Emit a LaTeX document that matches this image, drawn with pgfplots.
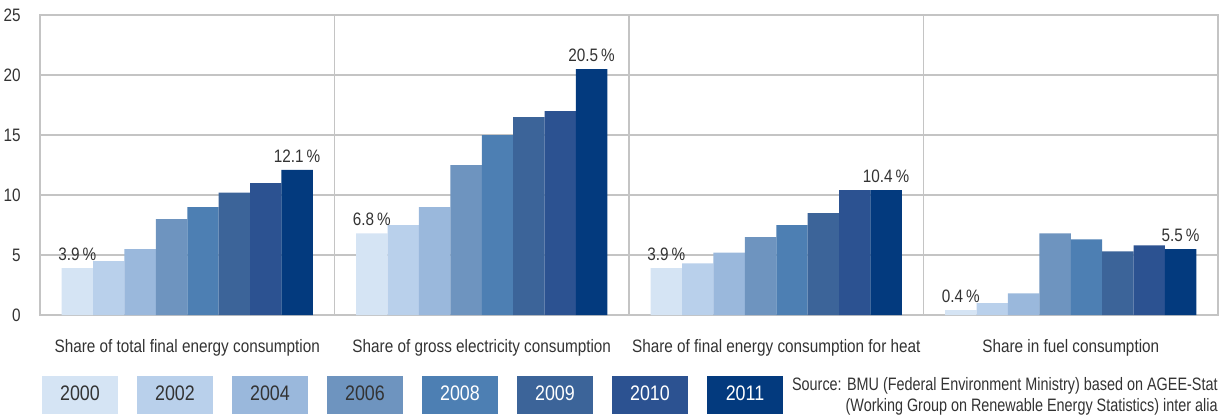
\documentclass[border=0pt]{standalone}
\usepackage{fontspec}
\setmainfont{Liberation Sans}[FakeStretch=0.85]
\newfontfamily\srcfont{Liberation Sans}[FakeStretch=0.8]
\usepackage{pgfplots}
\pgfplotsset{compat=1.18}
\usepackage{pgfplotstable}
\definecolor{c2000}{HTML}{D5E4F4}
\definecolor{c2002}{HTML}{B9D0EB}
\definecolor{c2004}{HTML}{9AB8DC}
\definecolor{c2006}{HTML}{6E94BF}
\definecolor{c2008}{HTML}{4D7FB3}
\definecolor{c2009}{HTML}{3C6499}
\definecolor{c2010}{HTML}{2C5291}
\definecolor{c2011}{HTML}{033A7E}
\definecolor{txt}{HTML}{333333}
\definecolor{gridc}{HTML}{C4C4C4}
\pgfplotsset{/pgf/number format/assume math mode=true}

\pgfplotstableread{
x   y2000 y2002 y2004 y2006 y2008 y2009 y2010 y2011
0.5 3.9   4.5   5.5   8.0   9.0   10.2  11.0  12.1
1.5 6.8   7.5   9.0   12.5  15.0  16.5  17.0  20.5
2.5 3.9   4.3   5.2   6.5   7.5   8.5   10.4  10.4
3.5 0.4   1.0   1.8   6.8   6.3   5.3   5.8   5.5
}\datatable

\begin{document}
\begin{tikzpicture}
\useasboundingbox (-20pt,-51pt) rectangle (593pt,157.5pt);
\begin{axis}[
  at={(0,0)}, anchor=south west,
  scale only axis, width=589pt, height=150pt,
  xmin=0, xmax=4, ymin=0, ymax=25,
  clip=false,
  ybar=0pt, bar width=15.7pt,
  xtick={0.5,1.5,2.5,3.5},
  xticklabels={Share of total final energy consumption, Share of gross electricity consumption, Share of final energy consumption for heat, Share in fuel consumption},
  ytick={0,5,...,25},
  ymajorgrids,
  extra x ticks={1,2,3}, extra x tick labels={}, extra x tick style={xmajorgrids=true},
  major grid style={gridc, line width=0.65pt},
  axis line style={gridc, line width=0.65pt},
  major tick length=0pt,
  tick style={draw=none},
  tick label style={font=\fontsize{9}{10}\selectfont, text=txt},
  yticklabel style={anchor=east, inner sep=0pt, xshift=-9.5pt},
  xticklabel style={anchor=base, inner sep=0pt, yshift=-18.5pt},
  mybar/.style={fill=#1, draw=none, legend image code/.code={}},
  valnodes/.style={nodes near coords={\pgfmathprintnumber[fixed,fixed zerofill,precision=1]{\pgfplotspointmeta}\,\%},
     point meta=y,
     every node near coord/.append style={font=\fontsize{9}{10}\selectfont, text=txt, inner sep=0pt, anchor=south, yshift=3.5pt}},
  legend columns=8,
  legend style={draw=none, fill=none, inner sep=0pt, outer sep=0pt,
     at={(0,0)}, anchor=west, xshift=1pt, yshift=-40pt,
     column sep=0pt,
     /tikz/every even column/.append style={column sep=9.5pt},
     nodes={inner sep=0pt, minimum width=38pt, minimum height=19pt, font=\fontsize{10.5}{11}\selectfont, text=txt}},
]
\addplot[mybar=c2000, valnodes] table[x=x,y=y2000]{\datatable};
\addlegendentry[fill=c2000]{2000}
\addplot[mybar=c2002] table[x=x,y=y2002]{\datatable};
\addlegendentry[fill=c2002]{2002}
\addplot[mybar=c2004] table[x=x,y=y2004]{\datatable};
\addlegendentry[fill=c2004]{2004}
\addplot[mybar=c2006] table[x=x,y=y2006]{\datatable};
\addlegendentry[fill=c2006]{2006}
\addplot[mybar=c2008] table[x=x,y=y2008]{\datatable};
\addlegendentry[fill=c2008,text=white]{2008}
\addplot[mybar=c2009] table[x=x,y=y2009]{\datatable};
\addlegendentry[fill=c2009,text=white]{2009}
\addplot[mybar=c2010] table[x=x,y=y2010]{\datatable};
\addlegendentry[fill=c2010,text=white]{2010}
\addplot[mybar=c2011, valnodes] table[x=x,y=y2011]{\datatable};
\addlegendentry[fill=c2011,text=white]{2011}
\node[anchor=north east, align=right, font=\srcfont\fontsize{9}{10.5}\selectfont, text=txt, inner sep=0pt, yshift=-31pt] at (rel axis cs:1,0)
  {Source: BMU (Federal Environment Ministry) based on AGEE-Stat\\(Working Group on Renewable Energy Statistics) inter alia};
\end{axis}
\end{tikzpicture}
\end{document}
